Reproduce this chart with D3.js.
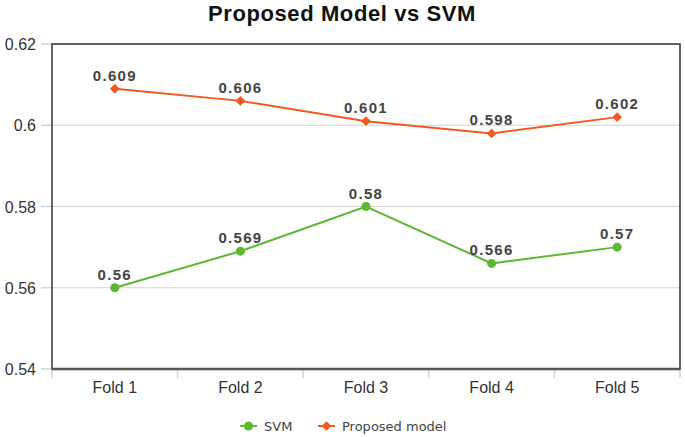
<!DOCTYPE html>
<html><head><meta charset="utf-8">
<script src="https://cdn.jsdelivr.net/npm/d3@7"></script>
<style>body{margin:0;background:#fff}svg{display:block}</style>
</head><body>
<script>
const categories = ["Fold 1","Fold 2","Fold 3","Fold 4","Fold 5"];
const svmValues = [0.56, 0.569, 0.58, 0.566, 0.57];
const proposedValues = [0.609, 0.606, 0.601, 0.598, 0.602];
const yTicks = [0.54, 0.56, 0.58, 0.6, 0.62];
const seriesNames = ["SVM", "Proposed model"];

const W = 685, H = 437;
const m = {l:52, r:5, t:44, b:68};
const svg = d3.select("body").append("svg").attr("width", W).attr("height", H);
const x = d3.scaleBand().domain(categories).range([m.l, W - m.r]);
const y = d3.scaleLinear().domain([0.54, 0.62]).range([H - m.b, m.t]);

svg.append("text").attr("x", 342).attr("y", 21).attr("text-anchor","middle")
  .style("font-family","Liberation Sans, Arial").style("font-weight","bold").style("font-size","22px")
  .style("letter-spacing","0.6px").attr("fill","#111").text("Proposed Model vs SVM");

// outer ticks (light blue)
svg.append("g").selectAll("line").data(yTicks).join("line")
  .attr("x1", m.l - 11).attr("x2", m.l).attr("y1", d => y(d)).attr("y2", d => y(d))
  .attr("stroke", "#c9d6e6").attr("stroke-width", 1.5);
// gridlines
svg.append("g").selectAll("line").data(yTicks).join("line")
  .attr("x1", m.l).attr("x2", W - m.r).attr("y1", d => y(d)).attr("y2", d => y(d))
  .attr("stroke", "#d4d4d4").attr("stroke-width", 1);

// y axis labels
svg.append("g").selectAll("text").data(yTicks).join("text")
  .attr("x", 36).attr("y", d => y(d) + 6).attr("text-anchor","end")
  .style("font-family","Liberation Sans, Arial").style("font-size","16px").attr("fill","#333")
  .text(d => d3.format("")(d));

// x axis ticks at band boundaries
const bounds = categories.map(c => x(c)).concat([x(categories[categories.length-1]) + x.bandwidth()]);
svg.append("g").selectAll("line").data(bounds).join("line")
  .attr("x1", d => d).attr("x2", d => d).attr("y1", y(0.54)).attr("y2", y(0.54) + 9)
  .attr("stroke", "#c9d6e6").attr("stroke-width", 1.5);

svg.append("g").selectAll("text").data(categories).join("text")
  .attr("x", d => x(d) + x.bandwidth()/2).attr("y", y(0.54) + 24).attr("text-anchor","middle")
  .style("font-family","Liberation Sans, Arial").style("font-size","16px").attr("fill","#333")
  .text(d => d);

// plot border
svg.append("rect").attr("x", m.l).attr("y", m.t).attr("width", W - m.r - m.l).attr("height", H - m.b - m.t)
  .attr("fill","none").attr("stroke","#333").attr("stroke-width",1.5);
svg.append("line").attr("x1", m.l).attr("x2", W - m.r).attr("y1", y(0.54)).attr("y2", y(0.54))
  .attr("stroke","#555").attr("stroke-width",2.5);

const cx = d => x(d) + x.bandwidth()/2;
const line = d3.line().x((d,i) => cx(categories[i])).y(d => y(d));

const orange = "#f05a22", green = "#5bb832";
const diamond = d3.symbol(d3.symbolDiamond2, 60);

svg.append("path").datum(proposedValues).attr("d", line).attr("fill","none").attr("stroke",orange).attr("stroke-width",2);
svg.append("path").datum(svmValues).attr("d", line).attr("fill","none").attr("stroke",green).attr("stroke-width",2);

svg.append("g").selectAll("path").data(proposedValues).join("path")
  .attr("d", diamond)
  .attr("transform", (d,i) => `translate(${cx(categories[i])},${y(d)})`).attr("fill", orange);
svg.append("g").selectAll("circle").data(svmValues).join("circle")
  .attr("cx", (d,i) => cx(categories[i])).attr("cy", d => y(d)).attr("r", 4.5).attr("fill", green);

function labels(vals){
  svg.append("g").selectAll("text").data(vals).join("text")
    .attr("x", (d,i) => cx(categories[i])).attr("y", d => y(d) - 8).attr("text-anchor","middle")
    .style("font-family","Liberation Sans, Arial").style("font-weight","bold").style("font-size","15px")
    .style("letter-spacing","1.3px").attr("fill","#444").text(d => d);
}
labels(proposedValues);
labels(svmValues);

// legend
const lg = svg.append("g").style("font-family","DejaVu Sans").style("font-size","13px");
const items = [{n:seriesNames[0], c:green, x:240, sym:"c"},{n:seriesNames[1], c:orange, x:318, sym:"d"}];
items.forEach(it => {
  lg.append("line").attr("x1", it.x).attr("x2", it.x + 17).attr("y1", 426).attr("y2", 426).attr("stroke", it.c).attr("stroke-width", 2);
  if (it.sym === "c") lg.append("circle").attr("cx", it.x + 8.5).attr("cy", 426).attr("r", 4.5).attr("fill", it.c);
  else lg.append("path").attr("d", diamond).attr("transform", `translate(${it.x+8.5},426)`).attr("fill", it.c);
  lg.append("text").attr("x", it.x + 24).attr("y", 431).attr("fill","#444").text(it.n);
});
</script>
</body></html>
